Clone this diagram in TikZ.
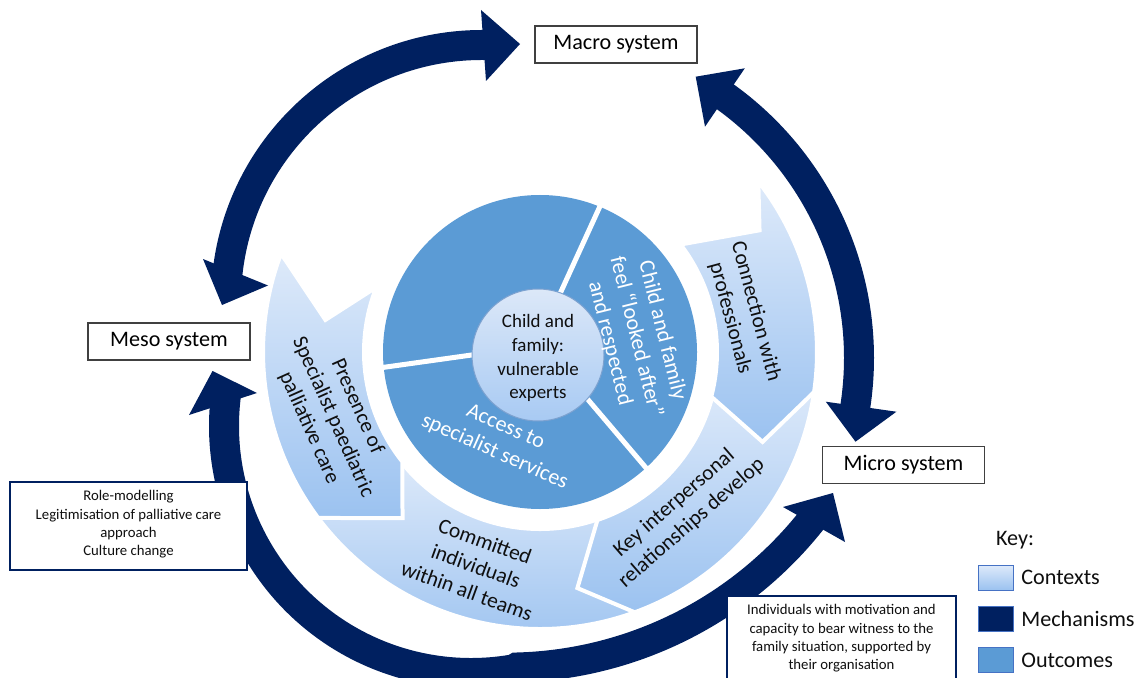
\documentclass[tikz,border=0pt]{standalone}
\usepackage{fontspec}
\setmainfont{Carlito}
\definecolor{navy}{HTML}{002060}
\definecolor{outc}{HTML}{5B9BD5}
\definecolor{ctxtop}{RGB}{222,234,250}
\definecolor{ctxbot}{RGB}{155,194,240}
\definecolor{intop}{RGB}{220,232,248}
\definecolor{inbot}{RGB}{168,202,243}
\definecolor{inbord}{RGB}{125,162,208}
\definecolor{boxgray}{RGB}{64,64,64}
\definecolor{txt}{RGB}{15,15,15}
\definecolor{swbord}{RGB}{70,114,196}
\begin{document}
\begin{tikzpicture}[x=0.02cm,y=0.02cm,
  ctx/.style={top color=ctxtop, bottom color=ctxbot, draw=white, line width=0.08cm},
  ringtxt/.style={text=txt, align=center, font=\fontsize{12.2}{15}\selectfont, inner sep=0pt},
  outtxt/.style={text=white, align=center, font=\fontsize{12.5}{15.3}\selectfont, inner sep=0pt},
  sysbox/.style={draw=boxgray, fill=white, line width=0.025cm, minimum width=3.24cm, minimum height=0.74cm, inner sep=0pt, font=\fontsize{12.6}{14}\selectfont},
  mechbox/.style={draw=navy, fill=white, line width=0.05cm, inner sep=0pt},
  mechtxt/.style={align=center, inner sep=0pt, text=txt, font=\fontsize{8.4}{10.4}\selectfont},
  shaft/.style={draw=navy, line width=0.6cm},
  headtri/.style={fill=navy},
  swatch/.style={draw=swbord, line width=0.02cm, minimum width=0.69cm, minimum height=0.5cm, inner sep=0pt},
  keytxt/.style={font=\fontsize{12.6}{14}\selectfont, anchor=west, inner sep=0pt, text=txt}
]
\path[use as bounding box, fill=white] (0,0) rectangle (1142,677);

% ---------- contexts ring ----------
\begin{scope}[shift={(540,325)}]
  % Committed
  \path[ctx] (217:277) arc[start angle=217, end angle=291, radius=277]
     -- (291:177) arc[start angle=291, end angle=217, radius=177] -- cycle;
  % Key interpersonal
  \path[ctx] (289:177) -- (279:239) -- (290:277)
     arc[start angle=290, end angle=353.5, radius=277]
     -- (347:178) arc[start angle=347, end angle=289, radius=177] -- cycle;
  % Connection
  \path[ctx] (38:277) arc[start angle=38, end angle=-8.3, radius=277]
     -- (-22:240) -- (-14.6:177) arc[start angle=-14.6, end angle=37.4, radius=177]
     -- (29:251) -- cycle;
  % Presence
  \path[ctx] (159.2:277) -- (171.5:217) -- (158.4:176)
     arc[start angle=158.4, end angle=218.6, radius=176]
     -- (-137.5,-166.2) -- (216.8:277)
     arc[start angle=216.8, end angle=159.2, radius=277] -- cycle;
\end{scope}

% ---------- outcomes ----------
\fill[outc] (540,325) circle[radius=157];
\draw[white, line width=0.1cm] (553.4,368.8) -- (601.6,474.3);
\draw[white, line width=0.1cm] (486.6,324.1) -- (380.4,309.2);
\draw[white, line width=0.1cm] (578.6,288.4) -- (650.2,204.2);
\shadedraw[top color=intop, bottom color=inbot, draw=inbord, line width=0.02cm] (538,322) circle[radius=66];

\node[text=txt, align=center, inner sep=0pt, font=\fontsize{10.8}{13.6}\selectfont] (core) at (538,319) {Child and\\family:\\vulnerable\\experts};
\node[outtxt, rotate=-76] (o1) at (636,340) {Child and family\\feel “looked after”\\and respected};
\node[outtxt, rotate=-24] (o2) at (500,237) {Access to\\specialist services};

\node[ringtxt, rotate=-75] (c1) at (743,362) {Connection with\\professionals};
\node[ringtxt, rotate=-66] (c2) at (333,260) {Presence of\\Specialist paediatric\\palliative care};
\node[ringtxt, rotate=-20] (c3) at (476,111) {Committed\\individuals\\within all teams};
\node[ringtxt, rotate=41] (c4) at (683,164) {Key interpersonal\\relationships develop};

% ---------- mechanisms arrows ----------
% top-left (Meso <-> Macro)
\draw[shaft] (482,376) ++(88:256) arc[start angle=88, end angle=175, radius=256];
\fill[headtri] (520,633) -- (481,667) -- (486,596) -- cycle;
\fill[headtri] (222,372) -- (203,418) -- (268,391.5) -- cycle;
% right (Macro <-> Micro)
\draw[shaft] (537,319) ++(56:322) arc[start angle=56, end angle=-10.5, radius=322];
\fill[headtri] (695.7,600.3) -- (744.8,608.7) -- (705,550.3) -- cycle;
\fill[headtri] (855.5,235.3) -- (825.8,275.3) -- (896.4,265.3) -- cycle;
% bottom (Meso <-> Micro)
\draw[shaft] (471,251) ++(172:247) arc[start angle=172, end angle=280, radius=247]
   -- (516.9,9.5) arc[start angle=271.5, end angle=323, radius=389];
\fill[headtri] (212.5,306) -- (189,262) -- (257,284) -- cycle;
\fill[headtri] (833,184) -- (783,170) -- (845,135) -- cycle;

% ---------- system boxes ----------
\node[sysbox] (macro) at (616,632.5) {Macro system};
\node[sysbox] (meso) at (169,335.5) {Meso system};
\node[sysbox] (micro) at (903.5,212) {Micro system};

% ---------- mechanism boxes ----------
\node[mechbox, minimum width=4.74cm, minimum height=1.76cm] (role) at (128.5,151) {};
\node[mechtxt] (roletxt) at (128.5,152.5) {Role-modelling\\Legitimisation of palliative care\\approach\\Culture change};
\node[mechbox, minimum width=4.58cm, minimum height=2.02cm] (indiv) at (841.5,30.5) {};
\node[mechtxt] (indivtxt) at (841.5,38.5) {Individuals with motivation and\\capacity to bear witness to the\\family situation, supported by\\their organisation};

% ---------- key ----------
\node[inner sep=0pt, text=txt, font=\fontsize{12.6}{14}\selectfont] (keyt) at (1015,137) {Key:};
\node[swatch, top color=ctxtop, bottom color=ctxbot] (k1) at (996,99.5) {};
\node[keytxt] (k1t) at (1021,99.5) {Contexts};
\node[swatch, fill=navy] (k2) at (996,58.5) {};
\node[keytxt] (k2t) at (1021,58.5) {Mechanisms};
\node[swatch, fill=outc] (k3) at (996,17) {};
\node[keytxt] (k3t) at (1021,17) {Outcomes};
\end{tikzpicture}
\end{document}
